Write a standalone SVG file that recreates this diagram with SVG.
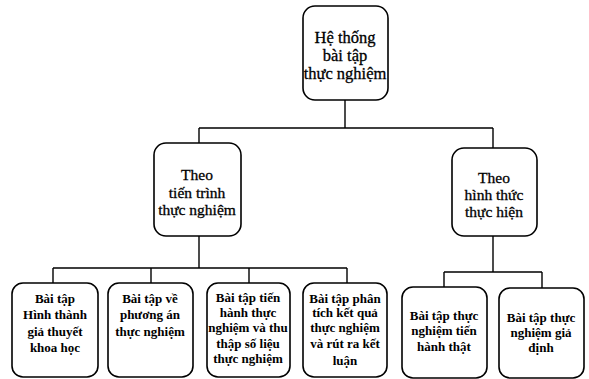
<svg xmlns="http://www.w3.org/2000/svg" width="589" height="379" viewBox="0 0 589 379">
<style>
.box{fill:#fff;stroke:#000;stroke-width:1.6}
.c{fill:none;stroke:#000;stroke-width:1.4}
text{font-family:"Liberation Serif","Times New Roman",serif;fill:#000;text-anchor:middle}
.t{font-size:16.5px;stroke:#000;stroke-width:0.3}
.m{font-size:15.5px;stroke:#000;stroke-width:0.3}
.b{font-size:13px;font-weight:bold}
</style>
<rect width="589" height="379" fill="#fff"/>
<g id="connectors">
<path class="c" d="M345 100V128M199 128H493M199 128V143M493 128V148"/>
<path class="c" d="M199 236V268M53 268H347M53 268V283M151 268V283M249 268V283M347 268V283"/>
<path class="c" d="M493 236V272M444 272H542M444 272V287M542 272V288"/>
</g>
<g id="root">
<rect class="box" x="303" y="6" width="85" height="94" rx="12"/>
<text class="t" x="345" y="43">Hệ thống</text>
<text class="t" x="345" y="61">bài tập</text>
<text class="t" x="345" y="79">thực nghiệm</text>
</g>
<g id="mid-left">
<rect class="box" x="154" y="143" width="87" height="93" rx="12"/>
<text class="m" x="197" y="180">Theo</text>
<text class="m" x="197" y="198">tiến trình</text>
<text class="m" x="197" y="215">thực nghiệm</text>
</g>
<g id="mid-right">
<rect class="box" x="452" y="148" width="85" height="88" rx="12"/>
<text class="m" x="494" y="183">Theo</text>
<text class="m" x="494" y="200">hình thức</text>
<text class="m" x="494" y="217">thực hiện</text>
</g>
<g id="b1">
<rect class="box" x="12" y="283" width="86" height="94" rx="11"/>
<text class="b" x="55" y="303">Bài tập</text>
<text class="b" x="55" y="319">Hình thành</text>
<text class="b" x="55" y="336">giả thuyết</text>
<text class="b" x="55" y="352">khoa học</text>
</g>
<g id="b2">
<rect class="box" x="108" y="283" width="85" height="94" rx="11"/>
<text class="b" x="150" y="303">Bài tập về</text>
<text class="b" x="150" y="319">phương án</text>
<text class="b" x="150" y="336">thực nghiệm</text>
</g>
<g id="b3">
<rect class="box" x="207" y="283" width="83" height="94" rx="11"/>
<text class="b" x="248" y="302">Bài tập tiến</text>
<text class="b" x="248" y="317">hành thực</text>
<text class="b" x="248" y="332">nghiệm và thu</text>
<text class="b" x="248" y="348">thập số liệu</text>
<text class="b" x="248" y="363">thực nghiệm</text>
</g>
<g id="b4">
<rect class="box" x="303" y="283" width="84" height="94" rx="11"/>
<text class="b" x="345" y="303">Bài tập phân</text>
<text class="b" x="345" y="317">tích kết quả</text>
<text class="b" x="345" y="332">thực nghiệm</text>
<text class="b" x="345" y="348">và rút ra kết</text>
<text class="b" x="345" y="365">luận</text>
</g>
<g id="b5">
<rect class="box" x="402" y="287" width="85" height="91" rx="11"/>
<text class="b" x="444" y="320">Bài tập thực</text>
<text class="b" x="444" y="335">nghiệm tiến</text>
<text class="b" x="444" y="351">hành thật</text>
</g>
<g id="b6">
<rect class="box" x="499" y="288" width="85" height="90" rx="11"/>
<text class="b" x="541" y="322">Bài tập thực</text>
<text class="b" x="541" y="337">nghiệm giả</text>
<text class="b" x="541" y="352">định</text>
</g>
</svg>
